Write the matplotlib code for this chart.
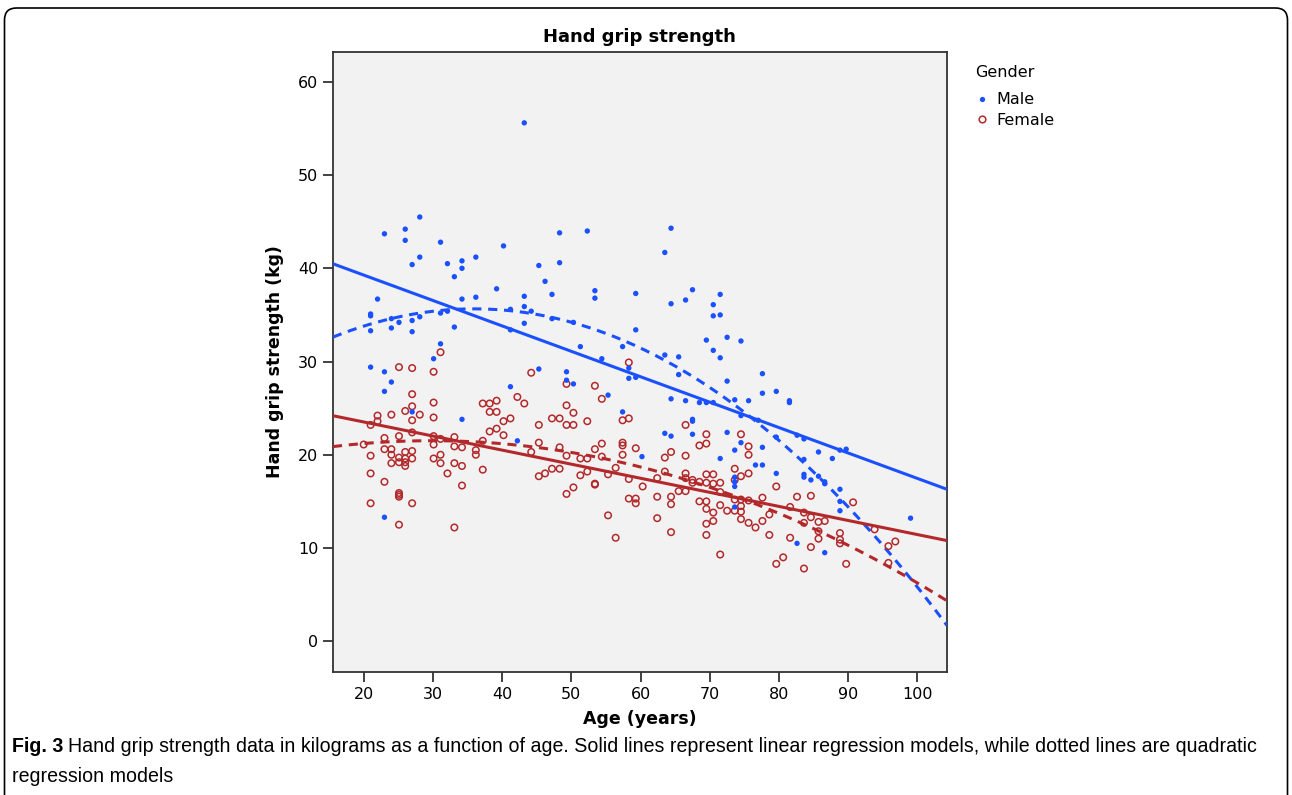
import numpy as np
import matplotlib
matplotlib.use("Agg")
import matplotlib.pyplot as plt
from matplotlib.patches import FancyBboxPatch
from matplotlib.lines import Line2D

# values
male_age = [43.2, 23.0, 26.0, 26.0, 28.1, 28.1, 27.0, 31.1, 32.1, 34.2, 34.2, 33.1, 36.2, 40.2,
            39.2, 34.2, 36.2, 22.0, 21.0, 21.0, 21.0, 24.0, 24.0, 25.1, 27.0, 27.0, 28.1, 31.1,
            32.1, 33.1, 31.1, 30.1, 41.2, 41.2, 43.2, 43.2, 43.2, 44.2, 45.3, 46.2, 47.2, 48.3,
            48.3, 47.2, 50.3, 52.3, 53.4, 53.4, 59.3, 59.3, 51.3, 57.4, 54.4, 58.3, 58.3, 59.3,
            45.3, 49.3, 49.3, 50.3, 21.0, 23.0, 24.0, 23.0, 41.2, 55.3,
            27.0, 34.2, 42.2, 57.4, 23.0, 60.2,
            64.4, 63.5, 67.5, 66.5, 64.4, 71.5, 70.5, 70.5, 71.5, 69.5, 72.5, 74.5, 70.5, 71.5,
            63.5, 65.5, 65.5, 72.5, 77.6, 77.6, 79.6, 81.5, 81.5, 64.4, 66.5, 68.5, 69.5, 70.5,
            73.6, 75.6, 74.5, 77.0, 67.5, 67.5, 63.5, 64.4, 67.5, 72.5, 74.5, 73.6, 77.6, 82.6,
            83.6, 85.7, 87.7, 88.8, 89.7, 71.5, 83.6,
            76.6, 77.6, 79.6, 83.6, 83.6, 84.6, 85.7, 86.6, 86.6, 88.8, 88.8, 88.8, 73.6, 73.6,
            73.6, 73.6, 82.6, 86.6, 99.0, 79.6]
male_grip = [55.6, 43.7, 44.2, 43.0, 45.5, 41.2, 40.4, 42.8, 40.5, 40.8, 40.0, 39.1, 41.2, 42.4,
             37.8, 36.7, 36.9, 36.7, 34.9, 35.1, 33.3, 33.6, 34.6, 34.2, 34.4, 33.2, 34.8, 35.2,
             35.4, 33.7, 31.9, 30.3, 35.6, 33.4, 37.0, 35.9, 34.1, 35.4, 40.3, 38.6, 37.2, 43.8,
             40.6, 34.6, 34.2, 44.0, 37.6, 36.8, 37.3, 33.4, 31.6, 31.6, 30.3, 29.3, 28.2, 28.3,
             29.2, 28.9, 28.0, 27.6, 29.4, 28.9, 27.8, 26.8, 27.3, 26.4,
             24.6, 23.8, 21.5, 24.6, 13.3, 19.8,
             44.3, 41.7, 37.7, 36.6, 36.2, 37.2, 36.1, 34.9, 35.0, 32.3, 32.6, 32.2, 31.2, 30.4,
             30.7, 30.5, 28.6, 27.9, 28.7, 26.6, 26.8, 25.8, 25.6, 26.0, 25.8, 25.6, 25.6, 25.6,
             25.9, 25.8, 24.2, 23.7, 23.8, 23.6, 22.3, 22.0, 22.2, 22.4, 21.3, 20.5, 20.8, 22.1,
             21.7, 20.3, 19.6, 20.5, 20.6, 19.6, 19.5,
             18.9, 18.9, 18.0, 17.9, 17.6, 17.3, 17.7, 17.1, 16.9, 16.3, 15.0, 14.0, 17.6, 17.1,
             16.6, 14.4, 10.5, 9.5, 13.2, 21.9]

female_age = [25.1, 27.0, 30.1, 31.1, 44.2, 49.3, 53.4, 58.3, 54.4, 27.0, 27.0, 26.0, 28.1, 27.0,
              24.0, 22.0, 22.0, 21.0, 30.1, 30.1, 23.0, 25.1, 27.0, 30.1, 30.1, 31.1, 33.1, 33.1,
              34.2, 36.2, 36.2, 37.2, 37.2, 38.2, 39.2, 38.2, 39.2, 40.2, 41.2, 38.2, 39.2, 40.2,
              42.2, 43.2, 21.0, 20.0, 23.0, 24.0, 24.0, 24.0, 25.1, 25.1, 26.0, 26.0, 26.0, 26.0,
              27.0, 27.0, 30.1, 31.1, 31.1, 32.1, 33.1, 34.2, 34.2, 37.2, 21.0, 23.0, 25.1, 25.1,
              25.1, 21.0, 27.0, 25.1, 33.1, 44.2, 45.3, 45.3, 45.3, 46.2, 47.2, 48.3, 47.2, 48.3,
              49.3, 50.3, 49.3, 50.3, 52.3, 48.3, 49.3, 51.3, 52.3, 53.4, 54.4, 54.4, 52.3, 51.3,
              53.4, 53.4, 50.3, 49.3, 55.3, 56.4, 57.4, 57.4, 57.4, 57.4, 58.3, 59.3, 58.3, 59.3,
              59.3, 58.3, 55.3, 56.4,
              66.5, 69.5, 69.5, 68.5, 74.5, 75.6, 75.6, 64.4, 63.5, 66.5,
              60.3, 62.4, 63.5, 62.4, 62.4, 64.4, 64.4, 64.4, 65.5, 66.5, 66.5, 66.5, 67.5, 67.5,
              68.5, 69.5, 70.5, 69.5, 70.5, 71.5, 68.5, 69.5, 69.5, 70.5, 69.5, 69.5, 70.5, 71.5,
              71.5, 72.5, 71.5, 73.6, 73.6, 74.5, 75.6, 73.6, 74.5, 75.6, 77.6, 74.5, 74.5, 74.5,
              73.6, 75.6, 76.6, 77.6, 78.6, 78.6, 79.6, 81.6, 81.6, 80.6, 79.6, 82.6, 83.6, 83.6,
              84.6, 84.6, 84.6, 83.6, 85.7, 85.7, 85.7, 86.6, 88.8, 88.8, 88.8, 89.7, 90.7, 93.8,
              95.8, 95.8, 96.8]
female_grip = [29.4, 29.3, 28.9, 31.0, 28.8, 27.6, 27.4, 29.9, 26.0, 26.5, 25.2, 24.7, 24.3, 23.7,
               24.3, 24.2, 23.6, 23.2, 25.6, 24.0, 21.8, 22.0, 22.4, 22.0, 21.1, 21.7, 21.9, 20.9,
               20.8, 20.5, 20.0, 21.5, 25.5, 25.5, 25.8, 24.6, 24.6, 23.6, 23.9, 22.5, 22.8, 22.1,
               26.2, 25.5, 19.9, 21.1, 20.6, 20.6, 20.0, 19.1, 19.7, 19.2, 20.3, 19.6, 19.2, 18.8,
               20.4, 19.6, 19.6, 20.0, 19.1, 18.0, 19.1, 18.8, 16.7, 18.4, 18.0, 17.1, 15.9, 15.7,
               15.5, 14.8, 14.8, 12.5, 12.2, 20.3, 21.3, 23.2, 17.7, 18.0, 18.5, 18.5, 23.9, 23.9,
               23.2, 23.2, 25.3, 24.5, 23.6, 20.8, 19.9, 19.6, 19.6, 20.6, 21.2, 19.8, 18.2, 17.8,
               16.9, 16.8, 16.5, 15.8, 17.9, 18.6, 20.0, 21.0, 21.3, 23.7, 23.9, 20.7, 17.4, 15.3,
               14.8, 15.3, 13.5, 11.1,
               23.2, 22.2, 21.2, 21.0, 22.2, 20.9, 20.0, 20.3, 19.7, 19.9,
               16.6, 17.5, 18.2, 15.5, 13.2, 15.5, 14.7, 11.7, 16.1, 18.0, 17.5, 16.1, 17.3, 17.0,
               17.1, 17.9, 17.9, 17.0, 16.9, 17.0, 15.0, 15.0, 14.2, 13.8, 12.6, 11.4, 12.9, 16.0,
               14.6, 14.0, 9.3, 18.5, 17.3, 17.7, 18.0, 15.2, 15.2, 15.1, 15.4, 14.5, 13.9, 13.1,
               14.0, 12.7, 12.2, 12.9, 13.6, 11.4, 16.6, 14.4, 11.1, 9.0, 8.3, 15.5, 13.8, 12.7,
               15.6, 13.3, 10.1, 7.8, 12.8, 11.8, 11.0, 12.9, 11.6, 10.9, 10.5, 8.3, 14.9, 12.0,
               10.2, 8.4, 10.7]

# regression coefficients (highest power first), estimated from the drawn lines
male_linear = [-0.2727, 44.73]
male_quad = [-0.007278, 0.5234, 26.24]
female_linear = [-0.151, 26.54]
female_quad = [-0.00310, 0.1850, 18.75]

x_ticks = [20, 30, 40, 50, 60, 70, 80, 90, 100]
y_ticks = [0, 10, 20, 30, 40, 50, 60]

caption_bold = "Fig. 3"
caption_line1 = ("Hand grip strength data in kilograms as a function of age. Solid lines represent "
                 "linear regression models, while dotted lines are quadratic")
caption_line2 = "regression models"

blue = "#1a50ff"
red = "#b3292b"

fig = plt.figure(figsize=(12.92, 7.95), dpi=100)
ax = fig.add_axes([0.2577, 0.1547, 0.4752, 0.7799])
ax.set_facecolor("#f2f2f2")

xmin, xmax = 15.56, 104.25
ax.set_xlim(xmin, xmax)
ax.set_ylim(-3.3, 63.2)

xs = np.linspace(xmin, xmax, 300)
ax.plot(xs, np.polyval(male_linear, xs), color=blue, lw=2.2, zorder=3)
ax.plot(xs, np.polyval(male_quad, xs), color=blue, lw=2.2, ls=(0, (3, 2.2)), zorder=3)
ax.plot(xs, np.polyval(female_linear, xs), color=red, lw=2.2, zorder=3)
ax.plot(xs, np.polyval(female_quad, xs), color=red, lw=2.2, ls=(0, (3, 2.2)), zorder=3)

ax.scatter(female_age, female_grip, s=22, facecolors="none", edgecolors=red, linewidths=1.1, zorder=4)
ax.scatter(male_age, male_grip, s=15, color=blue, edgecolors="none", zorder=5)

ax.set_xticks(x_ticks)
ax.set_yticks(y_ticks)
ax.tick_params(direction="out", length=7, width=1.3, colors="#333333", labelsize=11.5, labelcolor="black")
for s in ax.spines.values():
    s.set_color("#333333")
    s.set_linewidth(1.3)

ax.set_title("Hand grip strength", fontsize=13, fontweight="bold", pad=7)
ax.set_xlabel("Age (years)", fontsize=12.5, fontweight="bold", labelpad=6)
ax.set_ylabel("Hand grip strength (kg)", fontsize=12.5, fontweight="bold", labelpad=10)

handles = [Line2D([], [], ls="none", marker="o", ms=3.8, color=blue, mec="none"),
           Line2D([], [], ls="none", marker="o", ms=4.8, mfc="none", mec=red, mew=1.1)]
leg = ax.legend(handles, ["Male", "Female"], title="Gender", loc="upper left",
                bbox_to_anchor=(1.02, 1.005), frameon=False, fontsize=11.5,
                title_fontsize=11.5, handlelength=0.8, handletextpad=0.5,
                labelspacing=0.35, borderaxespad=0.6)
leg._legend_box.align = "left"
leg._legend_box.sep = 9

# caption, sized so that the first line ends where the reference's does
cap_font = "Liberation Sans"
cap_size = 14
y1 = 1 - 746 / 795
t1 = fig.text(12 / 1292, y1, caption_bold, fontsize=cap_size, fontweight="bold",
              family=cap_font, va="center")
t2 = fig.text(0, y1, caption_line1, fontsize=cap_size, family=cap_font, va="center")
fig.canvas.draw()
w_total = t1.get_window_extent().width + 5 + t2.get_window_extent().width
scale = (1262 - 12) / w_total
cap_size *= scale
t1.set_fontsize(cap_size)
t2.set_fontsize(cap_size)
fig.canvas.draw()
t2.set_x((t1.get_window_extent().x1 + 5) / 1292)
fig.text(12 / 1292, 1 - 776 / 795, caption_line2, fontsize=cap_size, family=cap_font, va="center")

border = FancyBboxPatch((0.045, -0.5), 12.83, 8.37, boxstyle="round,pad=0,rounding_size=0.12",
                        transform=fig.dpi_scale_trans, fill=False, ec="black", lw=1.2)
fig.patches.append(border)

fig.savefig("out.png", dpi=100)
